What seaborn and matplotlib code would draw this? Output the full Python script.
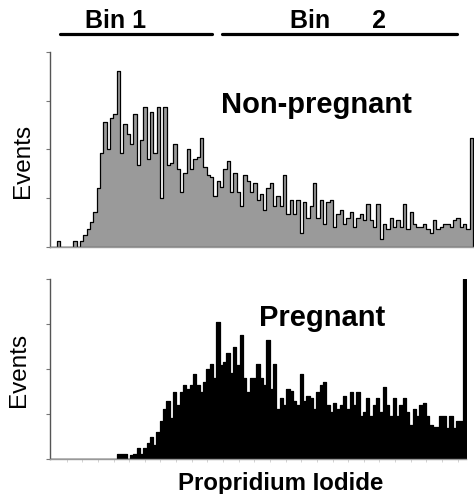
import numpy as np
import pandas as pd
import matplotlib
matplotlib.use("Agg")
import matplotlib.pyplot as plt
import seaborn as sns

# ---- data (relative event counts per channel, % of axis height) ----
nonpregnant = [0, 0, 3, 0, 0, 0, 0, 3, 0, 3, 6, 9, 13, 18, 30, 48, 64, 50, 66, 68,
               90, 48, 63, 58, 53, 68, 42, 55, 72, 45, 69, 48, 72, 25, 72, 42, 43, 53, 40, 28,
               38, 50, 40, 45, 46, 56, 41, 37, 36, 26, 34, 31, 40, 44, 28, 38, 28, 21, 37, 34,
               28, 33, 24, 27, 19, 30, 33, 21, 26, 21, 37, 17, 24, 17, 24, 7, 23, 15, 21, 33,
               15, 24, 12, 23, 24, 10, 17, 19, 12, 15, 18, 10, 15, 17, 14, 22, 14, 10, 22, 4,
               12, 9, 15, 10, 14, 10, 22, 9, 18, 12, 10, 10, 12, 9, 7, 14, 9, 10, 12, 12,
               10, 14, 15, 10, 12, 9, 56]

pregnant = [0] * 20 + [3, 3, 3, 0, 2, 3, 6, 3, 6, 9, 12, 8, 15, 21, 28, 32, 23, 37, 30, 37,
            41, 39, 41, 47, 41, 37, 43, 50, 53, 45, 76, 52, 54, 59, 48, 62, 52, 69, 45, 37,
            45, 45, 53, 45, 41, 66, 39, 53, 28, 34, 30, 39, 38, 32, 30, 47, 32, 35, 34, 28,
            37, 41, 43, 30, 26, 31, 28, 30, 35, 28, 37, 30, 37, 24, 26, 34, 24, 30, 34, 26,
            40, 30, 24, 34, 24, 30, 34, 26, 19, 28, 24, 30, 31, 24, 19, 18, 18, 24, 24, 17,
            24, 17, 21, 21, 100]

top_labels = ["Bin 1", "Bin      2"]
panel_labels = ["Non-pregnant", "Pregnant"]
y_label = "Events"
x_label = "Propridium Iodide"

sns.set_theme(style="white")
plt.rcParams["font.family"] = ["Liberation Sans", "DejaVu Sans"]
plt.rcParams["text.color"] = "black"

W, H = 474, 494
fig = plt.figure(figsize=(W / 100, H / 100), dpi=100)


def fx(px):
    return px / W


def fy(py):
    return 1 - py / H


def panel(values, left, right, top, bottom, color, edge):
    ax = fig.add_axes([fx(left), fy(bottom), fx(right - left), (bottom - top) / H])
    n = len(values)
    df = pd.DataFrame({"channel": np.arange(n) + 0.5,
                       "events": np.asarray(values, dtype=float)})
    sns.histplot(data=df, x="channel", weights="events", binwidth=1, binrange=(0, n),
                 element="step", fill=True, color=color, edgecolor=edge,
                 alpha=1, linewidth=0.9, ax=ax)
    ax.set_xlim(0, n)
    ax.set_ylim(0, 100)
    ax.set_xlabel("")
    ax.set_ylabel("")
    ax.set_yticks([0, 25, 50, 75, 100])
    ax.set_yticklabels([])
    ax.tick_params(axis="y", left=True, length=3, width=0.8, color="#777777")
    for s in ["top", "right"]:
        ax.spines[s].set_visible(False)
    ax.spines["left"].set_color("#555555")
    ax.spines["left"].set_linewidth(1.0)
    ax.spines["bottom"].set_color("#999999")
    ax.spines["bottom"].set_linewidth(1.0)
    ax.set_facecolor("white")
    return ax


ax1 = panel(nonpregnant, 50, 473, 52, 247, "#9a9a9a", "black")
ax1.set_xticks([])

ax2 = panel(pregnant, 50, 466, 279, 459, "black", "black")
ax2.set_xticks(np.arange(5, 124, 4.7))
ax2.set_xticklabels([])
ax2.tick_params(axis="x", bottom=True, length=2, width=0.6, color="#cccccc")

# panel annotations
fig.text(fx(316), fy(105), panel_labels[0], ha="center", va="center",
         fontsize=21, fontweight="bold", color="black")
fig.text(fx(322), fy(318), panel_labels[1], ha="center", va="center",
         fontsize=21, fontweight="bold", color="black")

fig.text(fx(23), fy(161), y_label, rotation=90, ha="center", va="center",
         fontsize=17.5, color="black")
fig.text(fx(19), fy(370), y_label, rotation=90, ha="center", va="center",
         fontsize=17.5, color="black")

fig.text(fx(281), fy(490), x_label, ha="center", va="baseline",
         fontsize=17.3, fontweight="bold", color="black")

# bin headers
fig.text(fx(116), fy(28), top_labels[0], ha="center", va="baseline",
         fontsize=18, fontweight="bold", color="black")
fig.text(fx(338), fy(28), top_labels[1], ha="center", va="baseline",
         fontsize=18, fontweight="bold", color="black")
fig.add_artist(plt.Line2D([fx(60), fx(212)], [fy(34), fy(34)],
                          transform=fig.transFigure, color="black", lw=2.3))
fig.add_artist(plt.Line2D([fx(222), fx(457)], [fy(34), fy(34)],
                          transform=fig.transFigure, color="black", lw=2.3))

fig.savefig("out.png", dpi=100, facecolor="white")
